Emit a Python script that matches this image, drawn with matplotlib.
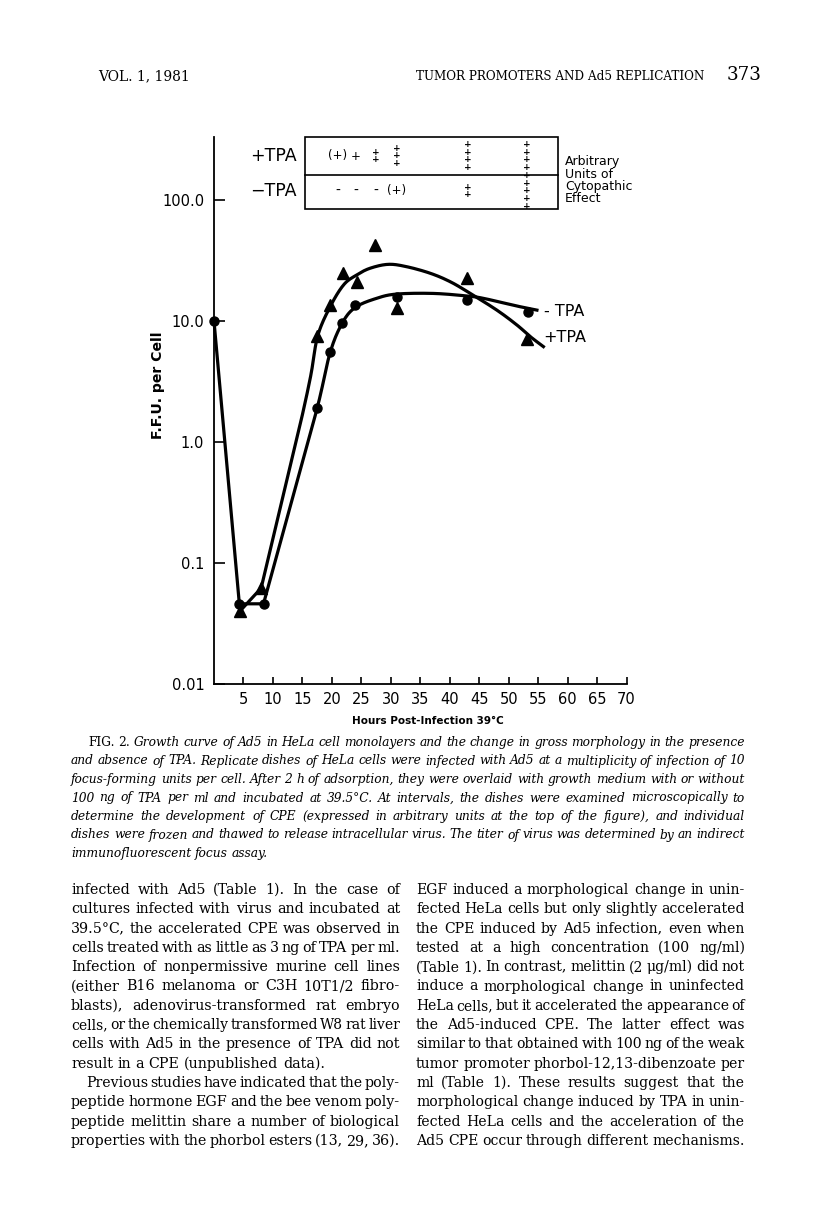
import matplotlib
matplotlib.use('Agg')
import matplotlib.pyplot as plt
import matplotlib.transforms as mtransforms
from matplotlib.patches import Rectangle
from matplotlib.ticker import NullLocator
import numpy as np

W, H, DPI = 816, 1208, 100

# ---- values ----
# +TPA (triangles) and -TPA (circles), F.F.U. per cell vs hours
plus_hours = [4.4, 8.0, 17.5, 19.7, 21.9, 24.2, 27.3, 31.0, 42.9, 53.1]
plus_ffu = [0.040, 0.062, 7.5, 13.6, 24.8, 21.1, 42.5, 12.7, 22.5, 7.1]
minus_hours = [0, 4.3, 8.4, 17.5, 19.7, 21.7, 23.9, 31.0, 42.9, 53.2]
minus_ffu = [10, 0.046, 0.046, 1.9, 5.5, 9.7, 13.6, 15.8, 14.9, 11.8]

# hand-drawn lines: straight part, then a smooth fitted curve
plus_seg_hours = [4.4, 8.0]
plus_seg_ffu = [0.040, 0.062]
plus_fit_hours = [8.0, 11.8, 14.6, 16.4, 17.6, 19.7, 22.0, 24.2, 26.5, 29.6, 32.7, 36.7,
                  40.1, 43.5, 48.0, 51.4, 53.7, 55.9]
plus_fit_ffu = [0.062, 0.37, 1.38, 3.5, 7.52, 13.1, 19.9, 24.0, 27.3, 29.4, 28.1, 24.8,
                21.1, 16.9, 12.3, 9.27, 7.41, 6.14]
minus_seg_hours = [0, 4.3, 8.4]
minus_seg_ffu = [10, 0.046, 0.046]
minus_fit_hours = [8.4, 13.0, 17.5, 19.7, 21.8, 24.0, 27.6, 31.0, 37.2, 42.9, 45.7, 51.4, 54.8]
minus_fit_ffu = [0.046, 0.30, 1.90, 5.47, 9.68, 12.97, 15.4, 16.7, 16.9, 16.1, 15.4, 13.3, 12.3]

# cytopathic effect scores (arbitrary units) at the top of the figure
cpe_hours = [21, 24, 27.5, 31, 43, 53]
cpe_plus = ['(+)', '+', 2, 3, 4, 4]
cpe_minus = ['-', '-', '-', '(+)', 2, 5]

x_ticks = list(range(5, 75, 5))
y_ticks = [0.01, 0.1, 1, 10, 100]
y_tick_labels = ['0.01', '0.1', '1.0', '10.0', '100.0']

caption = [
    "FIG. 2. Growth curve of Ad5 in HeLa cell monolayers and the change in gross morphology in the presence",
    "and absence of TPA. Replicate dishes of HeLa cells were infected with Ad5 at a multiplicity of infection of 10",
    "focus-forming units per cell. After 2 h of adsorption, they were overlaid with growth medium with or without",
    "100 ng of TPA per ml and incubated at 39.5°C. At intervals, the dishes were examined microscopically to",
    "determine the development of CPE (expressed in arbitrary units at the top of the figure), and individual",
    "dishes were frozen and thawed to release intracellular virus. The titer of virus was determined by an indirect",
    "immunofluorescent focus assay.",
]
left_col = [
    "infected with Ad5 (Table 1). In the case of",
    "cultures infected with virus and incubated at",
    "39.5°C, the accelerated CPE was observed in",
    "cells treated with as little as 3 ng of TPA per ml.",
    "Infection of nonpermissive murine cell lines",
    "(either B16 melanoma or C3H 10T1/2 fibro-",
    "blasts), adenovirus-transformed rat embryo",
    "cells, or the chemically transformed W8 rat liver",
    "cells with Ad5 in the presence of TPA did not",
    "result in a CPE (unpublished data).",
    "Previous studies have indicated that the poly-",
    "peptide hormone EGF and the bee venom poly-",
    "peptide melittin share a number of biological",
    "properties with the phorbol esters (13, 29, 36).",
]
right_col = [
    "EGF induced a morphological change in unin-",
    "fected HeLa cells but only slightly accelerated",
    "the CPE induced by Ad5 infection, even when",
    "tested at a high concentration (100 ng/ml)",
    "(Table 1). In contrast, melittin (2 μg/ml) did not",
    "induce a morphological change in uninfected",
    "HeLa cells, but it accelerated the appearance of",
    "the Ad5-induced CPE. The latter effect was",
    "similar to that obtained with 100 ng of the weak",
    "tumor promoter phorbol-12,13-dibenzoate per",
    "ml (Table 1). These results suggest that the",
    "morphological change induced by TPA in unin-",
    "fected HeLa cells and the acceleration of the",
    "Ad5 CPE occur through different mechanisms.",
]


def fx(x):
    return x / W


def fy(y):
    return 1 - y / H


def smooth(hours, vals, n=16):
    # Catmull-Rom through the read points, in log space
    x = np.asarray(hours, float)
    y = np.log10(vals)
    px = np.r_[2 * x[0] - x[1], x, 2 * x[-1] - x[-2]]
    py = np.r_[2 * y[0] - y[1], y, 2 * y[-1] - y[-2]]
    t = np.linspace(0, 1, n, endpoint=False)
    xs, ys = [], []
    for i in range(len(x) - 1):
        for p, out in ((px, xs), (py, ys)):
            p0, p1, p2, p3 = p[i:i + 4]
            out.extend(0.5 * (2 * p1 + (p2 - p0) * t
                              + (2 * p0 - 5 * p1 + 4 * p2 - p3) * t ** 2
                              + (3 * p1 - p0 - 3 * p2 + p3) * t ** 3))
    xs.append(x[-1])
    ys.append(y[-1])
    return np.array(xs), 10 ** np.array(ys)


fig = plt.figure(figsize=(W / DPI, H / DPI), dpi=DPI)
renderer = fig.canvas.get_renderer()


def text_width(s, **kw):
    t = fig.text(0, 0, s, **kw)
    w = t.get_window_extent(renderer).width
    t.remove()
    return w


def fit_size(s, width, **kw):
    return 10 * width / text_width(s, fontsize=10, **kw)


# ---- chart ----
ax = fig.add_axes([fx(214), fy(684), (626.5 - 214) / W, (684 - 137) / H])
ax.set_yscale('log')
ax.set_xlim(0, 70)
ax.set_ylim(0.01, 10 ** (-2 + (684 - 137) / 121))
for s in ('top', 'right'):
    ax.spines[s].set_visible(False)
for s in ('left', 'bottom'):
    ax.spines[s].set_linewidth(1.3)

lw = 2.3
ax.plot(minus_seg_hours, minus_seg_ffu, color='black', lw=lw, solid_joinstyle='miter', clip_on=False)
ax.plot(*smooth(minus_fit_hours, minus_fit_ffu), color='black', lw=lw, clip_on=False)
ax.plot(plus_seg_hours, plus_seg_ffu, color='black', lw=lw, solid_joinstyle='miter', clip_on=False)
ax.plot(*smooth(plus_fit_hours, plus_fit_ffu), color='black', lw=lw, clip_on=False)
ax.plot(minus_hours, minus_ffu, 'o', color='black', ms=6.5, clip_on=False, zorder=5)
ax.plot(plus_hours, plus_ffu, '^', color='black', ms=8.5, clip_on=False, zorder=5)

ax.set_xticks(x_ticks)
ax.set_xticklabels([str(v) for v in x_ticks])
ax.set_yticks(y_ticks)
ax.set_yticklabels(y_tick_labels)
ax.yaxis.set_minor_locator(NullLocator())
ax.tick_params(axis='x', direction='in', length=5, width=1.2, pad=6, labelsize=10.5)
ax.tick_params(axis='y', direction='in', length=8, width=1.2, pad=7, labelsize=10.5)
for lab in ax.get_xticklabels() + ax.get_yticklabels():
    lab.set_family('DejaVu Sans')

sans = dict(family='DejaVu Sans', color='black')
fig.text(fx(544), fy(311), '- TPA', ha='left', va='center', fontsize=11.5, **sans)
fig.text(fx(543), fy(337), '+TPA', ha='left', va='center', fontsize=11.5, **sans)

fs = fit_size('Hours Post-Infection 39°C', 152, weight='bold', **sans)
fig.text(fx(428), fy(721), 'Hours Post-Infection 39°C', ha='center', va='center',
         fontsize=fs, weight='bold', **sans)
fs = fit_size('F.F.U. per Cell', 108, weight='bold', **sans)
fig.text(fx(158), fy(385), 'F.F.U. per Cell', ha='center', va='center', rotation=90,
         fontsize=fs, weight='bold', **sans)

# CPE box
fig.patches.append(Rectangle((fx(305), fy(209)), (558 - 305) / W, (209 - 137) / H,
                             transform=fig.transFigure, fill=False, lw=1.2, ec='black'))
fig.lines.append(plt.Line2D([fx(305), fx(558)], [fy(175), fy(175)],
                            transform=fig.transFigure, lw=1.2, color='black'))
fig.text(fx(250), fy(156), '+TPA', ha='left', va='center', fontsize=12.5, **sans)
fig.text(fx(250), fy(191), '−TPA', ha='left', va='center', fontsize=12.5, **sans)
for i, s in enumerate(['Arbitrary', 'Units of', 'Cytopathic', 'Effect']):
    fig.text(fx(565), fy(162 + 12.3 * i), s, ha='left', va='center', fontsize=9, **sans)

blend = mtransforms.blended_transform_factory(ax.transData, fig.transFigure)
for scores, yc in ((cpe_plus, 156), (cpe_minus, 191)):
    for h, sc in zip(cpe_hours, scores):
        if isinstance(sc, str):
            ax.text(h, fy(yc), sc, transform=blend, ha='center', va='center',
                    fontsize=8.5 if sc != '-' else 10, clip_on=False, **sans)
        else:
            for k in range(sc):
                yy = yc + (k - (sc - 1) / 2) * 7.6
                ax.text(h, fy(yy), '+', transform=blend, ha='center', va='center',
                        fontsize=6.5, weight='bold', clip_on=False, **sans)

# ---- page header ----
serif = dict(family='DejaVu Serif', color='black')
for s, x0, x1 in (('VOL. 1, 1981', 98, 190),
                  ('TUMOR PROMOTERS AND Ad5 REPLICATION', 416, 705),
                  ('373', 727, 762)):
    fig.text(fx(x0), fy(80), s, ha='left', va='baseline',
             fontsize=fit_size(s, x1 - x0, **serif), **serif)


# ---- justified text blocks ----
def line_parts(line, size, kw, upright):
    words = line.split(' ')
    styles = [dict(kw) for _ in words]
    for k in range(upright):
        styles[k]['style'] = 'normal'
    widths = [text_width(w, fontsize=size, **st) for w, st in zip(words, styles)]
    return words, styles, widths


def block(lines, x0, x1, y0, step, kw, indents=None, ragged=(), upright=0, grow=1.0):
    indents = indents or {}
    space10 = text_width('a a', fontsize=10, **kw) - text_width('aa', fontsize=10, **kw)
    ratios = []
    for i, l in enumerate(lines):
        if i in ragged:
            continue
        words, _, widths = line_parts(l, 10, kw, upright if i == 0 else 0)
        nat = sum(widths) + space10 * (len(words) - 1)
        ratios.append(nat / (x1 - x0 - indents.get(i, 0)))
    size = 10 / np.median(ratios) * grow
    space = space10 * size / 10
    for i, line in enumerate(lines):
        y = y0 + i * step
        left = x0 + indents.get(i, 0)
        avail = x1 - left
        up = upright if i == 0 else 0
        sz = size
        words, styles, widths = line_parts(line, sz, kw, up)
        n = len(words) - 1
        if i not in ragged and sum(widths) + 0.6 * space * n > avail:
            sz = size * avail / (sum(widths) + 0.6 * space * n)
            words, styles, widths = line_parts(line, sz, kw, up)
        gap = space if i in ragged else (avail - sum(widths)) / n
        x = left
        for w, wd, st in zip(words, widths, styles):
            fig.text(fx(x), fy(y), w, ha='left', va='baseline', fontsize=sz, **st)
            x += wd + gap


block(caption, 71, 745, 746, 18.5, dict(family='DejaVu Serif', style='italic'),
      indents={0: 17}, ragged=(6,), upright=2, grow=1.0)
block(left_col, 71, 400, 894, 19.3, dict(family='DejaVu Serif'),
      indents={10: 15}, ragged=(9,), grow=1.0)
block(right_col, 416, 745, 894, 19.3, dict(family='DejaVu Serif'), grow=1.0)

fig.savefig('out.png', dpi=DPI)
